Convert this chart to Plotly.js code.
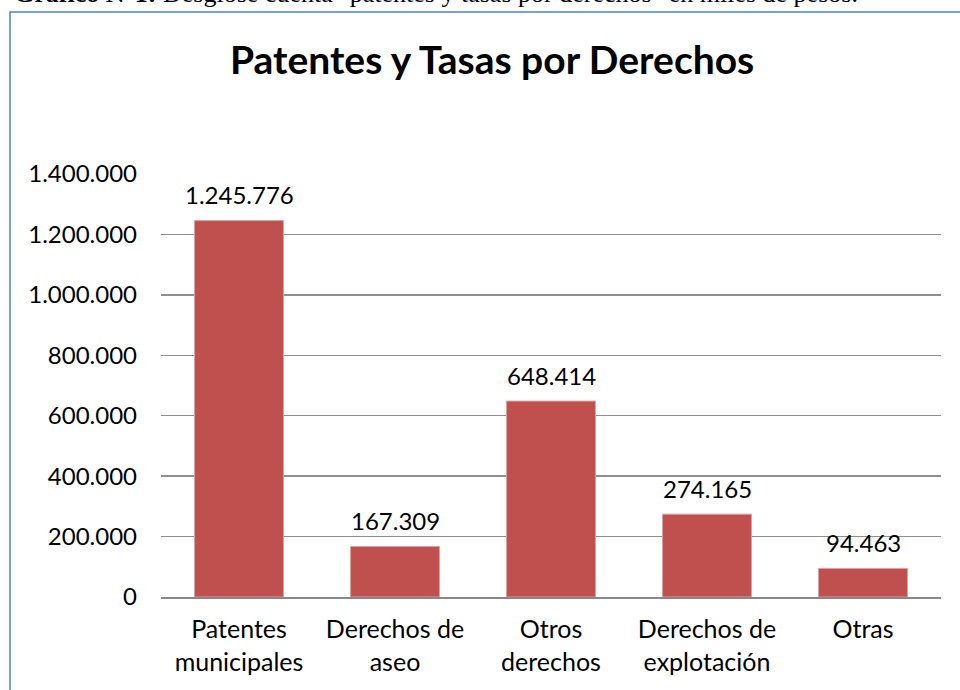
<!DOCTYPE html>
<html>
<head>
<meta charset="utf-8">
<script src="https://cdn.plot.ly/plotly-3.0.1.min.js"></script>
<style>
  html, body { margin: 0; padding: 0; background: #ffffff; }
  #chart { width: 960px; height: 690px; }
</style>
</head>
<body>
<div id="chart"></div>
<script>
// ---- data ----
var categories = ['Patentes municipales', 'Derechos de aseo', 'Otros derechos', 'Derechos de explotación', 'Otras'];
var categoryLabels = ['Patentes<br>municipales', 'Derechos de<br>aseo', 'Otros<br>derechos', 'Derechos de<br>explotación', 'Otras'];
var values = [1245776, 167309, 648414, 274165, 94463];
var yTickVals = [0, 200000, 400000, 600000, 800000, 1000000, 1200000, 1400000];
var chartTitle = 'Patentes y Tasas por Derechos';
var caption = '<b>Gráfico N°1:</b> Desglose cuenta "patentes y tasas por derechos" en miles de pesos.';

function fmt(v) {
  return String(v).replace(/\B(?=(\d{3})+(?!\d))/g, '.');
}

// pixel helpers (plot area: x 161..941, y 174..597)
var L = 161, R = 941, T = 174, B = 597;
function px(x) { return (x - L) / (R - L); }
function py(y) { return (B - y) / (B - T); }

var trace = {
  type: 'bar',
  x: categories,
  y: values,
  marker: { color: '#C0504D', line: { color: '#D9A3A1', width: 1 } },
  hoverinfo: 'x+y'
};

var annotations = categories.map(function (c, i) {
  return {
    x: c, y: values[i], xref: 'x', yref: 'y',
    text: fmt(values[i]), showarrow: false,
    xanchor: 'center', yanchor: 'middle', yshift: 26,
    font: { family: 'Lato, sans-serif', size: 24, color: '#000000' }
  };
});

annotations.push({
  xref: 'paper', yref: 'paper', x: px(492), y: py(58.5),
  xanchor: 'center', yanchor: 'middle', showarrow: false,
  text: '<b>' + chartTitle + '</b>',
  font: { family: 'Lato, sans-serif', size: 39, color: '#000000' }
});

annotations.push({
  xref: 'paper', yref: 'paper', x: px(12), y: py(10),
  xanchor: 'left', yanchor: 'bottom', showarrow: false,
  text: caption,
  font: { family: '"Liberation Serif", "Times New Roman", serif', size: 26, color: '#000000' }
});

var layout = {
  width: 960, height: 690,
  margin: { l: L, r: 960 - R, t: T, b: 690 - B, pad: 0 },
  paper_bgcolor: '#ffffff', plot_bgcolor: '#ffffff',
  separators: ',.',
  showlegend: false,
  bargap: 0.43,
  font: { family: 'Lato, sans-serif', size: 24, color: '#000000' },
  xaxis: {
    type: 'category',
    tickvals: categories,
    ticktext: categoryLabels,
    showgrid: false, zeroline: false,
    showline: true, linecolor: '#888888', linewidth: 2,
    ticks: '', ticklabelstandoff: 9,
    tickfont: { family: 'Lato, sans-serif', size: 25, color: '#000000' },
    fixedrange: true
  },
  yaxis: {
    range: [0, 1400000],
    tickvals: yTickVals,
    tickformat: ',d',
    showgrid: true, gridcolor: '#8f8f8f', gridwidth: 1.3,
    zeroline: false, showline: false,
    ticks: '', ticklabelstandoff: 23,
    tickfont: { family: 'Lato, sans-serif', size: 24, color: '#000000' },
    fixedrange: true
  },
  shapes: [{
    type: 'rect', xref: 'paper', yref: 'paper',
    x0: px(10), x1: px(1000), y0: py(740), y1: py(12),
    line: { color: '#4F81BD', width: 1.5 }, fillcolor: 'rgba(0,0,0,0)', layer: 'below'
  }],
  annotations: annotations
};

Plotly.newPlot('chart', [trace], layout, { displayModeBar: false, staticPlot: true });
</script>
</body>
</html>
